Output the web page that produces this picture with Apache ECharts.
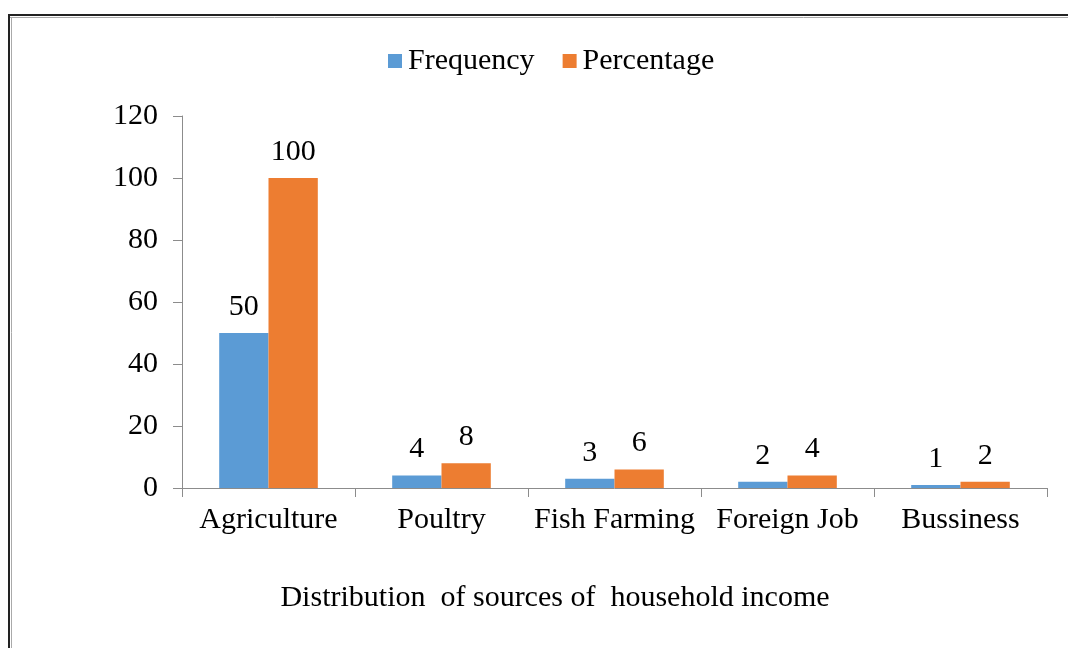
<!DOCTYPE html>
<html>
<head>
<meta charset="utf-8">
<script src="https://cdn.jsdelivr.net/npm/echarts@6/dist/echarts.min.js"></script>
<style>
  html, body { margin: 0; padding: 0; background: #ffffff; }
  #chart { width: 1068px; height: 648px; }
</style>
</head>
<body>
<div id="chart"></div>
<script>
// Sources of household income
const categories = ['Agriculture', 'Poultry', 'Fish Farming', 'Foreign Job', 'Bussiness'];
const frequency = [50, 4, 3, 2, 1];
const percentage = [100, 8, 6, 4, 2];
const seriesNames = ['Frequency', 'Percentage'];
const axisTitle = 'Distribution  of sources of  household income';

const FONT = '"Liberation Serif", "Times New Roman", serif';
const FONT_SIZE = 30;
const AXIS_COLOR = '#8c8c8c';

const chart = echarts.init(document.getElementById('chart'), null, { renderer: 'canvas' });

const labelStyle = {
  show: true,
  position: 'top',
  distance: 11,
  color: '#000',
  fontFamily: FONT,
  fontSize: FONT_SIZE
};

chart.setOption({
  animation: false,
  backgroundColor: '#ffffff',
  title: {
    text: axisTitle,
    left: 550,
    top: 578,
    textAlign: 'center',
    textStyle: { color: '#000', fontFamily: FONT, fontSize: FONT_SIZE, fontWeight: 'normal' }
  },
  legend: {
    data: seriesNames,
    left: 388,
    top: 46,
    padding: 0,
    itemWidth: 14,
    itemHeight: 14,
    itemGap: 28,
    icon: 'rect',
    textStyle: { color: '#000', fontFamily: FONT, fontSize: FONT_SIZE, padding: [0, 0, 0, 1] }
  },
  grid: { left: 182, right: 21, top: 116, bottom: 160, containLabel: false },
  xAxis: {
    type: 'category',
    data: categories,
    axisLine: { show: true, lineStyle: { color: AXIS_COLOR, width: 1 } },
    axisTick: { show: true, length: 9, alignWithLabel: false, lineStyle: { color: AXIS_COLOR } },
    axisLabel: { color: '#000', fontFamily: FONT, fontSize: FONT_SIZE, margin: 17, interval: 0 },
    splitLine: { show: false }
  },
  yAxis: {
    type: 'value',
    min: 0,
    max: 120,
    interval: 20,
    axisLine: { show: true, lineStyle: { color: AXIS_COLOR, width: 1 } },
    axisTick: { show: true, length: 9, lineStyle: { color: AXIS_COLOR } },
    axisLabel: { color: '#000', fontFamily: FONT, fontSize: FONT_SIZE, margin: 24 },
    splitLine: { show: false }
  },
  series: [
    {
      name: seriesNames[0],
      type: 'bar',
      data: frequency,
      barGap: '0%',
      barCategoryGap: '43%',
      itemStyle: { color: '#5B9BD5' },
      label: labelStyle
    },
    {
      name: seriesNames[1],
      type: 'bar',
      data: percentage,
      barGap: '0%',
      barCategoryGap: '43%',
      itemStyle: { color: '#ED7D31' },
      label: labelStyle
    }
  ],
  graphic: [
    // page frame: double rule along the top and left edges
    { type: 'line', shape: { x1: 9, y1: 15, x2: 1068, y2: 15 }, style: { stroke: '#222', lineWidth: 2 } },
    { type: 'line', shape: { x1: 10, y1: 17.5, x2: 1068, y2: 17.5 }, style: { stroke: '#aaa', lineWidth: 1 } },
    { type: 'line', shape: { x1: 9, y1: 14, x2: 9, y2: 648 }, style: { stroke: '#222', lineWidth: 2 } },
    { type: 'line', shape: { x1: 11.5, y1: 17, x2: 11.5, y2: 648 }, style: { stroke: '#aaa', lineWidth: 1 } }
  ]
});
</script>
</body>
</html>
